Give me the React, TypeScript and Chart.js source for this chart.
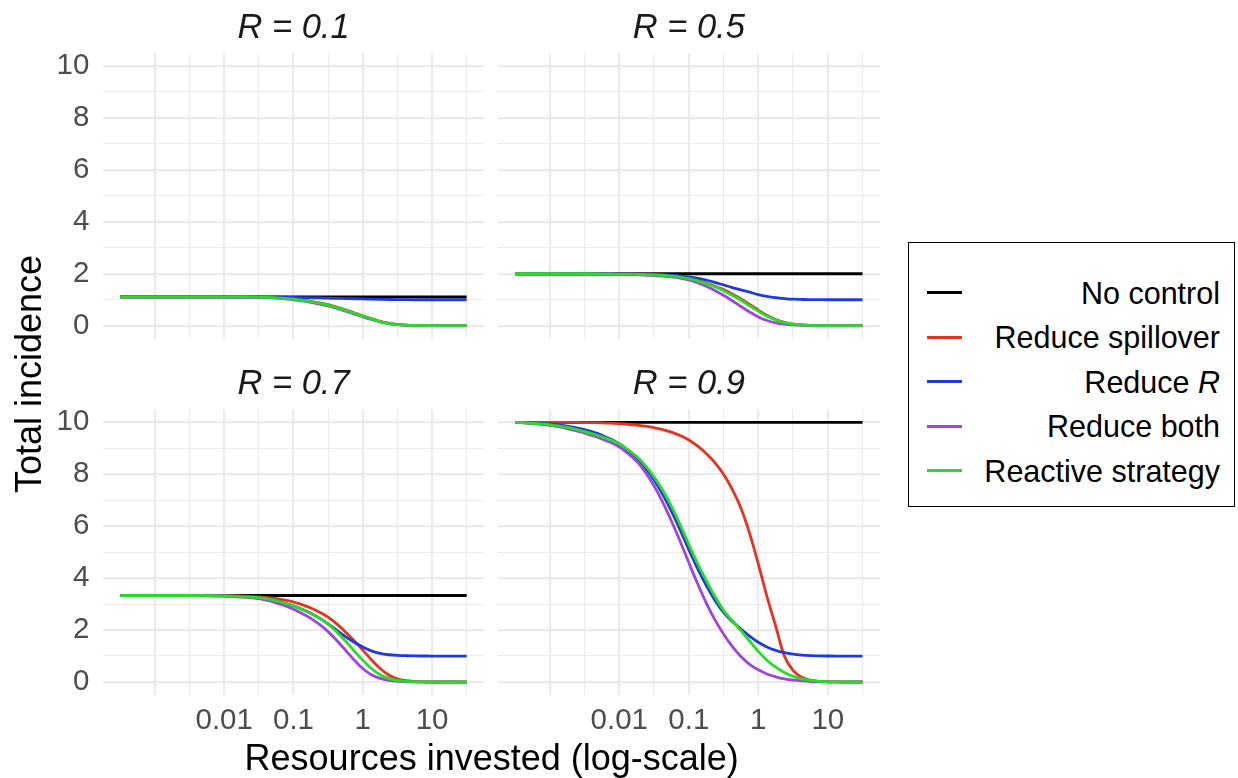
import React, { useEffect, useRef } from "react";
import { Chart, registerables } from "chart.js";

Chart.register(...registerables);

const FONT = "'Liberation Sans', Arial, Helvetica, sans-serif";
const GRID = "#EBEBEB";

// x sample points (resources invested): 10^-3.5 ... 10^1.5 in 1/8-decade steps
const xValues = [
  0.000316, 0.000422, 0.000562, 0.00075, 0.001, 0.00133, 0.00178, 0.00237, 0.00316, 0.00422,
  0.00562, 0.0075, 0.01, 0.0133, 0.0178, 0.0237, 0.0316, 0.0422, 0.0562, 0.075,
  0.1, 0.133, 0.178, 0.237, 0.316, 0.422, 0.562, 0.75, 1, 1.33,
  1.78, 2.37, 3.16, 4.22, 5.62, 7.5, 10, 13.3, 17.8, 23.7, 31.6,
];
const xGridValues = [0.001, 0.00316, 0.01, 0.0316, 0.1, 0.316, 1, 3.16, 10, 31.6];
const xTickValues = [0.01, 0.1, 1, 10];
const xTickLabels = ["0.01", "0.1", "1", "10"];
const yGridValues = [0, 1, 2, 3, 4, 5, 6, 7, 8, 9, 10];
const yTickLabels = ["0", "", "2", "", "4", "", "6", "", "8", "", "10"];

const seriesNames = ["No control", "Reduce spillover", "Reduce R", "Reduce both", "Reactive strategy"];
const seriesColors = ["#000000", "#E8321E", "#1F3BE0", "#A044E0", "#25DD25"];
const panelTitles = ["R = 0.1", "R = 0.5", "R = 0.7", "R = 0.9"];

// R = 0.1
const r01NoControl = [
  1.11, 1.11, 1.11, 1.11, 1.11, 1.11, 1.11, 1.11, 1.11, 1.11, 1.11, 1.11, 1.11, 1.11, 1.11, 1.11, 1.11, 1.11, 1.11, 1.11,
  1.11, 1.11, 1.11, 1.11, 1.11, 1.11, 1.11, 1.11, 1.11, 1.11, 1.11, 1.11, 1.11, 1.11, 1.11, 1.11, 1.11, 1.11, 1.11, 1.11, 1.11,
];
const r01Spillover = [
  1.11, 1.11, 1.11, 1.11, 1.11, 1.11, 1.11, 1.11, 1.11, 1.11, 1.11, 1.11, 1.11, 1.11, 1.11,
  1.108, 1.1, 1.092, 1.08, 1.06, 1.03, 0.99, 0.94, 0.88, 0.81, 0.72, 0.61, 0.5, 0.38, 0.27, 0.17, 0.1, 0.05, 0.022, 0.009, 0.003,
  0, 0, 0, 0, 0,
];
const r01ReduceR = [
  1.11, 1.11, 1.11, 1.11, 1.11, 1.11, 1.11, 1.11, 1.11, 1.11, 1.11, 1.11, 1.11, 1.11, 1.11,
  1.108, 1.105, 1.103, 1.1, 1.095, 1.09, 1.083, 1.075, 1.068, 1.06, 1.053, 1.045, 1.038, 1.03, 1.022, 1.015, 1.009, 1.005, 1.002,
  1, 1, 1, 1, 1, 1, 1,
];
const r01Both = [
  1.11, 1.11, 1.11, 1.11, 1.11, 1.11, 1.11, 1.11, 1.11, 1.11, 1.11, 1.11, 1.11,
  1.108, 1.105, 1.1, 1.09, 1.078, 1.06, 1.035, 1.0, 0.955, 0.9, 0.835, 0.76, 0.67, 0.56, 0.45, 0.34, 0.24, 0.15, 0.085, 0.04, 0.018, 0.007, 0.002,
  0, 0, 0, 0, 0,
];
const r01Reactive = [
  1.11, 1.11, 1.11, 1.11, 1.11, 1.11, 1.11, 1.11, 1.11, 1.11, 1.11, 1.11, 1.11, 1.11, 1.11,
  1.107, 1.1, 1.09, 1.075, 1.05, 1.02, 0.98, 0.93, 0.87, 0.79, 0.7, 0.59, 0.48, 0.37, 0.26, 0.16, 0.09, 0.045, 0.02, 0.008, 0.003,
  0, 0, 0, 0, 0,
];

// R = 0.5
const r05NoControl = [
  2, 2, 2, 2, 2, 2, 2, 2, 2, 2, 2, 2, 2, 2, 2, 2, 2, 2, 2, 2,
  2, 2, 2, 2, 2, 2, 2, 2, 2, 2, 2, 2, 2, 2, 2, 2, 2, 2, 2, 2, 2,
];
const r05Spillover = [
  2, 2, 2, 2, 2, 2, 2, 2, 2, 2, 2,
  1.998, 1.995, 1.993, 1.99, 1.983, 1.975, 1.955, 1.93, 1.89, 1.83, 1.75, 1.65, 1.53, 1.39, 1.22, 1.03, 0.82, 0.6, 0.4, 0.24, 0.13, 0.06, 0.03, 0.01, 0.004,
  0, 0, 0, 0, 0,
];
const r05ReduceR = [
  2, 2, 2, 2, 2, 2, 2, 2, 2, 2, 2, 2,
  1.995, 1.993, 1.99, 1.985, 1.98, 1.965, 1.95, 1.92, 1.88, 1.83, 1.76, 1.67, 1.57, 1.47, 1.38, 1.29, 1.2, 1.13, 1.08, 1.045, 1.02, 1.01, 1.005, 1.002,
  1, 1, 1, 1, 1,
];
const r05Both = [
  2, 2, 2, 2, 2, 2, 2,
  1.998, 1.995, 1.993, 1.99, 1.985, 1.98, 1.97, 1.96, 1.95, 1.93, 1.91, 1.88, 1.83, 1.76, 1.66, 1.52, 1.36, 1.17, 0.96, 0.74, 0.53, 0.34, 0.2, 0.11, 0.06, 0.03, 0.012, 0.005, 0.002,
  0, 0, 0, 0, 0,
];
const r05Reactive = [
  2, 2, 2, 2, 2, 2, 2, 2, 2, 2,
  1.995, 1.993, 1.99, 1.985, 1.98, 1.97, 1.96, 1.94, 1.91, 1.87, 1.81, 1.73, 1.62, 1.5, 1.35, 1.17, 0.98, 0.77, 0.56, 0.37, 0.22, 0.12, 0.06, 0.03, 0.01, 0.004,
  0, 0, 0, 0, 0,
];

// R = 0.7
const r07NoControl = [
  3.33, 3.33, 3.33, 3.33, 3.33, 3.33, 3.33, 3.33, 3.33, 3.33, 3.33, 3.33, 3.33, 3.33, 3.33, 3.33, 3.33, 3.33, 3.33, 3.33,
  3.33, 3.33, 3.33, 3.33, 3.33, 3.33, 3.33, 3.33, 3.33, 3.33, 3.33, 3.33, 3.33, 3.33, 3.33, 3.33, 3.33, 3.33, 3.33, 3.33, 3.33,
];
const r07Spillover = [
  3.33, 3.33, 3.33, 3.33, 3.33, 3.33, 3.33, 3.33, 3.33, 3.33, 3.33, 3.33,
  3.325, 3.32, 3.31, 3.3, 3.28, 3.25, 3.21, 3.15, 3.08, 2.98, 2.85, 2.69, 2.5, 2.24, 1.93, 1.59, 1.23, 0.86, 0.52, 0.27, 0.12, 0.05, 0.02, 0.007,
  0, 0, 0, 0, 0,
];
const r07ReduceR = [
  3.33, 3.33, 3.33, 3.33, 3.33, 3.33, 3.33, 3.33, 3.33, 3.33,
  3.325, 3.32, 3.315, 3.305, 3.29, 3.27, 3.25, 3.2, 3.13, 3.04, 2.93, 2.8, 2.65, 2.46, 2.24, 1.99, 1.75, 1.53, 1.35, 1.2, 1.1, 1.05, 1.025, 1.012, 1.005, 1.002,
  1, 1, 1, 1, 1,
];
const r07Both = [
  3.33, 3.33, 3.33, 3.33, 3.33, 3.33, 3.33, 3.33, 3.33,
  3.325, 3.32, 3.315, 3.31, 3.29, 3.27, 3.245, 3.21, 3.14, 3.05, 2.94, 2.8, 2.64, 2.45, 2.22, 1.94, 1.6, 1.23, 0.85, 0.52, 0.28, 0.14, 0.065, 0.03, 0.012, 0.005, 0.002,
  0, 0, 0, 0, 0,
];
const r07Reactive = [
  3.33, 3.33, 3.33, 3.33, 3.33, 3.33, 3.33, 3.33, 3.33, 3.33,
  3.325, 3.32, 3.315, 3.305, 3.29, 3.27, 3.25, 3.2, 3.13, 3.04, 2.93, 2.8, 2.64, 2.45, 2.23, 1.93, 1.58, 1.2, 0.84, 0.52, 0.28, 0.14, 0.06, 0.025, 0.01, 0.004,
  0, 0, 0, 0, 0,
];

// R = 0.9
const r09NoControl = [
  10, 10, 10, 10, 10, 10, 10, 10, 10, 10, 10, 10, 10, 10, 10, 10, 10, 10, 10, 10,
  10, 10, 10, 10, 10, 10, 10, 10, 10, 10, 10, 10, 10, 10, 10, 10, 10, 10, 10, 10, 10,
];
const r09Spillover = [
  10, 10, 10, 10, 10, 10,
  9.995, 9.993, 9.99, 9.985, 9.98, 9.97, 9.95, 9.925, 9.89, 9.85, 9.79, 9.72, 9.62, 9.49, 9.32, 9.09, 8.8, 8.45, 8.0, 7.42,
  6.7, 5.72, 4.55, 3.3, 2.15, 1.0, 0.45, 0.18, 0.07, 0.025, 0.01, 0.003,
  0, 0, 0,
];
const r09ReduceR = [
  10, 9.99, 9.97, 9.955, 9.93, 9.9, 9.85, 9.79, 9.72, 9.62, 9.5, 9.35, 9.17, 8.92, 8.62, 8.24, 7.78, 7.22, 6.58, 5.86,
  5.1, 4.38, 3.72, 3.15, 2.68, 2.33, 2.04, 1.77, 1.53, 1.35, 1.22, 1.13, 1.07, 1.035, 1.015, 1.006, 1.002, 1, 1, 1, 1,
];
const r09Both = [
  10, 9.98, 9.95, 9.92, 9.88, 9.83, 9.76, 9.68, 9.58, 9.48, 9.36, 9.22, 9.05, 8.8, 8.5, 8.08, 7.55, 6.92, 6.2, 5.42,
  4.6, 3.8, 3.05, 2.4, 1.85, 1.37, 0.98, 0.68, 0.47, 0.31, 0.2, 0.12, 0.07, 0.04, 0.02, 0.01, 0.005, 0.002, 0, 0, 0,
];
const r09Reactive = [
  10, 9.98, 9.96, 9.935, 9.9, 9.86, 9.8, 9.73, 9.64, 9.55, 9.44, 9.32, 9.17, 8.95, 8.68, 8.33, 7.9, 7.38, 6.77, 6.06,
  5.3, 4.58, 3.92, 3.3, 2.76, 2.36, 1.98, 1.58, 1.18, 0.84, 0.57, 0.37, 0.22, 0.12, 0.06, 0.025, 0.01, 0.004, 0, 0, 0,
];

const panelSeries = [
  [r01NoControl, r01Spillover, r01ReduceR, r01Both, r01Reactive],
  [r05NoControl, r05Spillover, r05ReduceR, r05Both, r05Reactive],
  [r07NoControl, r07Spillover, r07ReduceR, r07Both, r07Reactive],
  [r09NoControl, r09Spillover, r09ReduceR, r09Both, r09Reactive],
];

const isIntLog = (v: number) => {
  const l = Math.log10(v);
  return Math.abs(l - Math.round(l)) < 0.01;
};

const xLabelFor = (v: number) => {
  for (let i = 0; i < xTickValues.length; i++) {
    if (Math.abs(Math.log10(v) - Math.log10(xTickValues[i])) < 0.01) return xTickLabels[i];
  }
  return "";
};

type PanelProps = {
  index: number;
  left: number;
  top: number;
  width: number;
  height: number;
  yAxisWidth: number;
  xAxisHeight: number;
  padRight: number;
  titlePadTop: number;
  titlePadBottom: number;
  showX: boolean;
  showY: boolean;
};

function Panel(p: PanelProps) {
  const ref = useRef<HTMLCanvasElement>(null);
  useEffect(() => {
    const series = panelSeries[p.index];
    const tickFont = { family: FONT, size: 29.5, lineHeight: 1.2 };
    const chart = new Chart(ref.current as HTMLCanvasElement, {
      type: "line",
      data: {
        datasets: series.map((vals, i) => ({
          label: seriesNames[i],
          data: xValues.map((x, j) => ({ x, y: vals[j] })),
          borderColor: seriesColors[i],
          backgroundColor: seriesColors[i],
          borderWidth: 2.8,
          pointRadius: 0,
          pointHoverRadius: 0,
          cubicInterpolationMode: "monotone",
          fill: false,
          order: series.length - 1 - i,
        })),
      },
      options: {
        animation: false,
        responsive: false,
        devicePixelRatio: 1,
        events: [],
        layout: { padding: { left: 0, right: p.padRight, top: 0, bottom: 0 } },
        plugins: {
          legend: { display: false },
          tooltip: { enabled: false },
          title: {
            display: true,
            text: panelTitles[p.index],
            fullSize: false,
            color: "#1A1A1A",
            font: { family: FONT, size: 34.5, style: "italic", weight: "normal", lineHeight: 1.2 },
            padding: { top: p.titlePadTop, bottom: p.titlePadBottom },
          },
        },
        scales: {
          x: {
            type: "logarithmic",
            min: Math.pow(10, -3.75),
            max: Math.pow(10, 1.75),
            afterBuildTicks: (s: any) => {
              s.ticks = xGridValues.map((v) => ({ value: v }));
            },
            afterFit: (s: any) => {
              s.height = p.xAxisHeight;
              s.paddingLeft = 0;
              s.paddingRight = 0;
              s.paddingTop = 0;
              s.paddingBottom = 0;
            },
            border: { display: false },
            grid: {
              color: GRID,
              drawTicks: false,
              lineWidth: (ctx: any) => (ctx.tick && isIntLog(ctx.tick.value) ? 2.2 : 1.1),
            },
            ticks: {
              display: p.showX,
              autoSkip: false,
              maxRotation: 0,
              minRotation: 0,
              padding: 8,
              color: "#4D4D4D",
              font: tickFont,
              callback: (v: any) => xLabelFor(Number(v)),
            },
          },
          y: {
            type: "linear",
            min: -0.5,
            max: 10.5,
            afterBuildTicks: (s: any) => {
              s.ticks = yGridValues.map((v) => ({ value: v }));
            },
            afterFit: (s: any) => {
              s.width = p.yAxisWidth;
              s.paddingLeft = 0;
              s.paddingRight = 0;
              s.paddingTop = 0;
              s.paddingBottom = 0;
            },
            border: { display: false },
            grid: {
              color: GRID,
              drawTicks: false,
              lineWidth: (ctx: any) => (ctx.tick && Math.round(ctx.tick.value) % 2 === 0 ? 2.2 : 1.1),
            },
            ticks: {
              display: p.showY,
              autoSkip: false,
              padding: 13.7,
              color: "#4D4D4D",
              font: tickFont,
              callback: (v: any) => {
                const i = yGridValues.indexOf(Number(v));
                return i >= 0 ? yTickLabels[i] : "";
              },
            },
          },
        },
      } as any,
    });
    return () => chart.destroy();
  }, []);
  return (
    <canvas
      ref={ref}
      width={p.width}
      height={p.height}
      style={{ position: "absolute", left: p.left, top: p.top, width: p.width, height: p.height, display: "block" }}
    />
  );
}

function LegendLabel({ name }: { name: string }) {
  if (name === "Reduce R") {
    return (
      <span>
        Reduce <i>R</i>
      </span>
    );
  }
  return <span>{name}</span>;
}

export default function App() {
  const legendRowY = [292.7, 337.2, 381.7, 426.2, 470.7];
  return (
    <div
      style={{
        position: "fixed",
        left: 0,
        top: 0,
        width: 1238,
        height: 778,
        background: "#FFFFFF",
        fontFamily: FONT,
        overflow: "hidden",
      }}
    >
      <Panel index={0} left={0} top={0} width={490} height={345} yAxisWidth={103} xAxisHeight={6.3} padRight={6} titlePadTop={7.5} titlePadBottom={4.1} showX={false} showY={true} />
      <Panel index={1} left={490} top={0} width={400} height={345} yAxisWidth={7.7} xAxisHeight={6.3} padRight={10.1} titlePadTop={7.5} titlePadBottom={4.1} showX={false} showY={false} />
      <Panel index={2} left={0} top={345} width={490} height={433} yAxisWidth={103} xAxisHeight={83} padRight={6} titlePadTop={18.8} titlePadBottom={4.1} showX={true} showY={true} />
      <Panel index={3} left={490} top={345} width={400} height={433} yAxisWidth={7.7} xAxisHeight={83} padRight={10.1} titlePadTop={18.8} titlePadBottom={4.1} showX={true} showY={false} />

      <div
        style={{
          position: "absolute",
          left: 28.8 - 200,
          top: 374 - 18,
          width: 400,
          height: 36,
          lineHeight: "36px",
          fontSize: 36,
          textAlign: "center",
          color: "#000",
          transform: "rotate(-90deg)",
          whiteSpace: "nowrap",
        }}
      >
        Total incidence
      </div>
      <div
        style={{
          position: "absolute",
          left: 491.7 - 400,
          top: 740.4,
          width: 800,
          height: 36,
          lineHeight: "36px",
          fontSize: 36,
          textAlign: "center",
          color: "#000",
          whiteSpace: "nowrap",
        }}
      >
        Resources invested (log-scale)
      </div>

      <div
        style={{
          position: "absolute",
          left: 908,
          top: 241.7,
          width: 327,
          height: 265,
          border: "1.6px solid #000",
          boxSizing: "border-box",
        }}
      />
      {seriesNames.map((name, i) => (
        <React.Fragment key={name}>
          <div
            style={{
              position: "absolute",
              left: 926.7,
              top: legendRowY[i] - 1.4,
              width: 35,
              height: 2.8,
              background: seriesColors[i],
            }}
          />
          <div
            style={{
              position: "absolute",
              right: 1238 - 1220,
              top: legendRowY[i] - 14.9,
              height: 30.5,
              lineHeight: "30.5px",
              fontSize: 30.5,
              color: "#000",
              whiteSpace: "nowrap",
              textAlign: "right",
            }}
          >
            <LegendLabel name={name} />
          </div>
        </React.Fragment>
      ))}
    </div>
  );
}
